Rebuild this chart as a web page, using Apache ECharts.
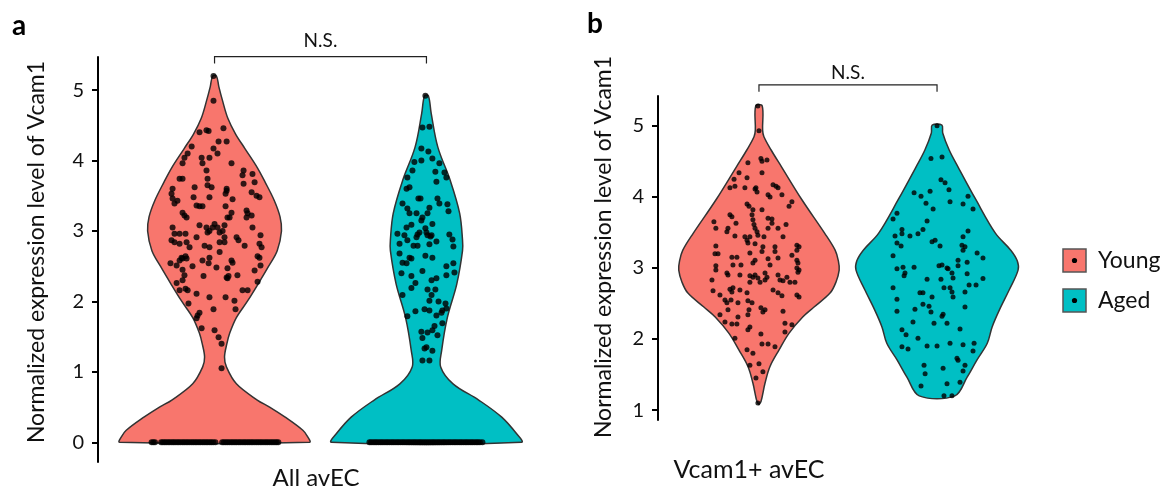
<!DOCTYPE html>
<html><head><meta charset="utf-8">
<script src="https://cdn.jsdelivr.net/npm/echarts@6/dist/echarts.min.js"></script>
<style>html,body{margin:0;padding:0;background:#fff}#c{width:1167px;height:495px}</style>
</head><body><div id="c"></div><script>
const groups = ['Young', 'Aged'];
const groupColors = ['#F8766D', '#00BFC4'];
const panelLetters = ['a', 'b'];
const panelXLabels = ['All avEC', 'Vcam1+ avEC'];
const yAxisTitle = 'Normalized expression level of Vcam1';
const sigLabel = 'N.S.';
const yTicksA = [0, 1, 2, 3, 4, 5];
const yTicksB = [1, 2, 3, 4, 5];

// violin outlines: [value, relative half-width]
const violinYoungA = [[0,1.0],[0.08,0.98],[0.17,0.93],[0.36,0.74],[0.5,0.58],[0.6,0.45],[0.83,0.23],[1.07,0.125],[1.21,0.105],[1.4,0.13],[1.55,0.16],[1.77,0.23],[2.01,0.35],[2.25,0.46],[2.5,0.57],[2.72,0.66],[3.0,0.705],[3.2,0.69],[3.43,0.63],[3.7,0.53],[3.9,0.45],[4.17,0.32],[4.38,0.22],[4.6,0.14],[4.85,0.084],[5.05,0.045],[5.2,0.02]];
const violinAgedA = [[0,1.0],[0.12,0.95],[0.36,0.79],[0.6,0.55],[0.83,0.28],[1.07,0.15],[1.3,0.16],[1.77,0.22],[2.25,0.32],[2.72,0.38],[2.87,0.38],[3.25,0.35],[3.72,0.25],[4.19,0.12],[4.67,0.05],[4.92,0.02]];
const violinYoungB = [[1.08,0.0],[1.12,0.025],[1.38,0.075],[1.61,0.135],[1.85,0.25],[2.08,0.37],[2.31,0.54],[2.45,0.68],[2.65,0.88],[2.8,0.95],[2.97,0.99],[3.1,0.98],[3.25,0.94],[3.49,0.81],[3.96,0.53],[4.42,0.28],[4.66,0.15],[4.85,0.06],[4.94,0.045],[5.28,0.04]];
const violinAgedB = [[1.2,0.22],[1.46,0.37],[1.7,0.49],[1.94,0.62],[2.17,0.68],[2.41,0.77],[2.69,0.89],[2.97,1.0],[3.1,0.99],[3.25,0.91],[3.49,0.72],[3.96,0.48],[4.42,0.26],[4.66,0.15],[4.9,0.07],[5.01,0.06]];

// jittered cells: [jitter, value]
const cellsYoungA = [[-0.005,5.2],[-0.005,4.85],[-0.071,4.4],[-0.038,4.43],[-0.028,4.42],[0.042,4.46],[0.019,4.27],[0.057,4.27],[-0.108,4.2],[-0.005,4.17],[-0.127,4.1],[-0.142,4.04],[-0.151,3.96],[-0.061,4.04],[-0.024,4.04],[0.014,4.1],[0.08,3.96],[-0.038,3.86],[-0.057,3.96],[0.137,3.86],[0.179,3.81],[0.132,3.79],[-0.165,3.74],[-0.151,3.74],[-0.033,3.74],[0.137,3.67],[0.189,3.69],[-0.033,3.65],[-0.024,3.48],[-0.014,3.62],[-0.094,3.62],[-0.099,3.48],[-0.198,3.6],[-0.203,3.53],[-0.198,3.46],[-0.189,3.39],[-0.175,3.43],[0.057,3.57],[0.052,3.53],[0.057,3.6],[0.085,3.45],[0.175,3.55],[0.198,3.5],[0.212,3.48],[-0.085,3.36],[-0.071,3.35],[-0.057,3.35],[0.052,3.35],[-0.151,3.26],[-0.142,3.22],[-0.132,3.19],[0.151,3.29],[0.156,3.25],[0.151,3.19],[0.175,3.22],[0.08,3.26],[0.071,3.19],[0.061,3.19],[-0.071,3.08],[-0.038,3.05],[-0.024,3.0],[-0.033,2.98],[-0.009,3.05],[0,3.1],[0.014,3.05],[0.038,3.0],[0.047,3.08],[-0.198,3.05],[-0.189,2.96],[-0.165,2.96],[-0.137,2.96],[-0.203,2.87],[-0.189,2.84],[-0.165,2.82],[-0.132,2.84],[-0.118,2.77],[-0.085,2.91],[0.024,2.98],[0.047,2.91],[0.024,2.84],[0.047,2.84],[0.104,2.91],[0.113,2.87],[0.179,3.05],[0.217,2.94],[0.212,2.82],[0.222,2.77],[0.142,2.79],[-0.047,2.79],[-0.024,2.77],[-0.208,2.54],[-0.179,2.51],[-0.165,2.58],[-0.156,2.62],[-0.151,2.61],[-0.137,2.64],[-0.132,2.61],[-0.104,2.5],[-0.151,2.45],[-0.142,2.37],[-0.151,2.3],[-0.179,2.26],[-0.165,2.16],[-0.137,2.18],[-0.127,2.16],[-0.085,2.11],[-0.123,1.97],[-0.071,1.84],[-0.08,1.8],[-0.085,1.76],[-0.061,1.62],[-0.057,2.58],[-0.024,2.62],[-0.028,2.54],[0.009,2.48],[-0.052,2.36],[-0.024,2.06],[-0.005,1.89],[0,1.59],[0.019,1.49],[0.033,1.4],[0.033,1.05],[0.052,2.06],[0.057,2.34],[0.061,2.33],[0.066,2.36],[0.061,2.47],[0.08,2.58],[0.085,2.55],[0.024,2.7],[0.094,2.01],[0.099,1.89],[0.108,2.37],[0.132,2.16],[0.156,2.16],[0.189,2.44],[0.203,2.28],[0.217,2.51],[0.203,2.64],[0.212,2.62]];
const zerosYoungA = [-0.297,-0.289,-0.281,-0.252,-0.244,-0.236,-0.228,-0.219,-0.211,-0.202,-0.194,-0.186,-0.177,-0.169,-0.16,-0.151,-0.143,-0.134,-0.126,-0.117,-0.108,-0.1,-0.091,-0.083,-0.074,-0.066,-0.057,-0.049,-0.04,-0.032,-0.023,-0.015,-0.006,0.004,0.036,0.044,0.053,0.061,0.07,0.079,0.087,0.096,0.104,0.113,0.121,0.13,0.139,0.147,0.156,0.164,0.173,0.181,0.19,0.199,0.207,0.216,0.224,0.233,0.242,0.25,0.259,0.268,0.276,0.285,0.293,0.301];
const cellsAgedA = [[-0.005,4.92],[-0.019,4.47],[0.014,4.48],[-0.024,4.17],[0.009,4.13],[-0.057,3.98],[-0.024,4.0],[0.028,4.03],[0.061,3.96],[-0.066,3.86],[0.042,3.84],[0.085,3.83],[0.094,3.76],[-0.09,3.76],[0.047,3.7],[-0.094,3.6],[-0.08,3.62],[-0.038,3.46],[-0.028,3.46],[-0.113,3.39],[0.052,3.46],[0.061,3.39],[0.099,3.38],[-0.09,3.32],[-0.08,3.25],[-0.047,3.25],[0.014,3.33],[0.005,3.25],[0.104,3.28],[-0.019,3.19],[-0.024,3.15],[0.028,3.1],[-0.094,3.05],[-0.071,3.09],[-0.005,3.04],[0,2.98],[0.005,2.94],[-0.033,2.98],[-0.137,2.96],[-0.104,2.94],[-0.09,2.87],[-0.042,2.95],[-0.047,2.91],[0.019,2.92],[0.024,2.94],[0.108,2.95],[0.123,2.88],[0.127,2.78],[-0.127,2.82],[-0.061,2.79],[-0.042,2.79],[0.014,2.81],[0.047,2.85],[-0.127,2.68],[-0.113,2.55],[-0.094,2.54],[-0.08,2.62],[-0.071,2.61],[-0.005,2.65],[0.028,2.62],[0.094,2.5],[0.127,2.54],[0.094,2.37],[0.132,2.41],[-0.118,2.4],[-0.071,2.36],[-0.052,2.26],[-0.071,2.19],[-0.019,2.43],[0.024,2.3],[0.047,2.33],[0.005,2.17],[0.042,2.17],[-0.113,2.09],[0.014,2.01],[0.024,2.09],[0.057,2.0],[0.09,1.97],[0.075,1.87],[0.094,1.9],[0.071,1.84],[-0.052,1.86],[-0.009,1.89],[0.014,1.87],[-0.09,1.79],[0.047,1.8],[0.075,1.69],[-0.024,1.57],[0.005,1.56],[0.028,1.59],[0.038,1.65],[0.052,1.52],[-0.019,1.48],[0,1.35],[-0.009,1.33],[0.028,1.3],[-0.019,1.16],[0.014,1.16]];
const zerosAgedA = [-0.269,-0.261,-0.252,-0.243,-0.235,-0.226,-0.217,-0.209,-0.2,-0.191,-0.183,-0.174,-0.165,-0.157,-0.148,-0.139,-0.131,-0.122,-0.113,-0.105,-0.096,-0.087,-0.079,-0.07,-0.061,-0.053,-0.044,-0.035,-0.027,-0.018,-0.009,0,0.009,0.018,0.027,0.035,0.044,0.053,0.061,0.07,0.079,0.087,0.096,0.105,0.113,0.122,0.131,0.139,0.148,0.157,0.165,0.174,0.183,0.191,0.2,0.209,0.217,0.226,0.235,0.243,0.252,0.264];
const cellsYoungB = [[-0.006,5.28],[0,4.93],[-0.062,4.48],[0.011,4.54],[0.017,4.5],[0.045,4.52],[-0.112,4.34],[0.017,4.34],[-0.14,4.25],[-0.135,4.15],[-0.163,4.13],[-0.067,4.27],[-0.079,4.13],[-0.022,4.11],[-0.011,4.07],[-0.017,4.13],[0.079,4.17],[0.096,4.15],[0.107,4.13],[0.051,4.03],[0.062,4.0],[0.129,4.03],[0.185,3.93],[0.169,3.87],[-0.067,3.9],[-0.056,3.87],[-0.034,3.82],[0.017,3.82],[-0.163,3.75],[-0.152,3.72],[-0.039,3.75],[-0.034,3.68],[-0.028,3.61],[-0.022,3.56],[0.051,3.7],[0.073,3.69],[-0.253,3.65],[-0.242,3.56],[-0.129,3.63],[0.073,3.63],[0.107,3.56],[0.051,3.56],[0.152,3.61],[-0.18,3.51],[-0.174,3.56],[-0.079,3.44],[-0.067,3.39],[-0.051,3.44],[-0.062,3.35],[-0.011,3.51],[-0.006,3.46],[-0.135,3.45],[0.028,3.44],[0.135,3.44],[-0.242,3.31],[-0.022,3.34],[0.022,3.3],[0.09,3.3],[0.213,3.32],[0.225,3.3],[-0.247,3.2],[-0.23,3.2],[-0.152,3.15],[-0.124,3.15],[-0.051,3.21],[-0.034,3.07],[-0.022,3.11],[0.017,3.23],[0.051,3.13],[0.062,3.04],[0.09,3.23],[0.107,3.14],[0.185,3.18],[0.213,3.25],[0.213,3.11],[0.219,3.07],[0.213,3.0],[0.225,2.97],[0.219,2.94],[-0.242,3.03],[-0.242,2.97],[-0.146,3.04],[-0.101,3.04],[-0.18,2.93],[-0.174,2.9],[-0.107,2.9],[-0.051,2.89],[-0.034,2.87],[-0.022,2.9],[-0.006,2.86],[0.006,2.8],[0.034,2.93],[0.045,2.87],[0.034,2.83],[-0.051,2.8],[0.107,2.9],[0.118,2.83],[0.135,2.82],[0.174,2.8],[0.202,2.8],[0.157,2.87],[-0.264,2.83],[-0.258,2.68],[-0.163,2.7],[-0.146,2.72],[-0.152,2.66],[-0.107,2.69],[-0.067,2.65],[-0.219,2.62],[-0.191,2.55],[-0.18,2.51],[-0.157,2.55],[-0.118,2.51],[-0.062,2.54],[-0.039,2.51],[0.079,2.69],[0.107,2.65],[0.129,2.61],[0.213,2.62],[0.225,2.59],[0.011,2.44],[0.022,2.38],[0.034,2.41],[-0.056,2.41],[-0.062,2.34],[-0.174,2.41],[-0.219,2.34],[-0.191,2.24],[-0.152,2.21],[-0.124,2.21],[-0.118,2.31],[0.135,2.39],[0.146,2.22],[0.185,2.2],[0.146,2.1],[-0.051,2.17],[-0.062,2.13],[0.011,2.07],[-0.135,2.01],[0.017,1.93],[0.051,1.93],[0.09,1.89],[-0.067,1.85],[-0.034,1.8],[-0.051,1.63],[0,1.65],[0.022,1.54],[-0.017,1.45],[-0.006,1.1]];
const cellsAgedB = [[0,5.0],[-0.034,4.54],[0.028,4.56],[0.022,4.24],[0.045,4.2],[0.067,4.1],[-0.039,4.08],[-0.129,4.06],[-0.09,4.01],[-0.062,3.91],[0.073,3.93],[0.174,4.01],[0.146,3.9],[0.202,3.83],[-0.022,3.83],[-0.225,3.77],[-0.247,3.69],[-0.056,3.66],[-0.079,3.54],[-0.107,3.48],[-0.152,3.45],[-0.197,3.54],[-0.197,3.48],[-0.236,3.45],[-0.225,3.35],[-0.202,3.31],[-0.028,3.37],[-0.011,3.39],[0.017,3.31],[0.174,3.52],[0.146,3.44],[0.14,3.32],[0.157,3.3],[-0.247,3.17],[-0.225,2.99],[-0.191,3.01],[-0.18,2.93],[-0.185,2.89],[-0.129,3.01],[-0.056,2.84],[-0.247,2.72],[-0.225,2.56],[-0.225,2.39],[-0.096,2.65],[-0.079,2.65],[-0.028,2.59],[-0.079,2.49],[-0.045,2.46],[-0.124,2.42],[-0.034,2.38],[0.011,3.03],[0.028,3.04],[0.056,3.0],[0.062,2.99],[0.084,2.93],[0.09,2.86],[0.022,2.84],[0.039,2.72],[0.073,2.72],[0.084,2.66],[0.09,2.59],[0.118,3.11],[0.118,3.03],[0.169,3.08],[0.146,3.25],[0.225,3.21],[0.258,3.14],[0.169,2.92],[0.258,2.85],[0.219,2.76],[0.18,2.76],[0.157,2.66],[0.157,2.45],[-0.135,2.24],[-0.017,2.22],[0.028,2.32],[0.034,2.35],[0.056,2.22],[0.129,2.14],[-0.197,2.13],[-0.174,2.06],[-0.107,2.01],[-0.197,1.89],[-0.163,1.86],[-0.056,1.9],[0,1.9],[0.073,1.94],[0.146,1.92],[0.208,1.94],[0.202,1.83],[0.112,1.73],[0.118,1.7],[0.157,1.63],[0.146,1.55],[0.034,1.59],[-0.073,1.63],[-0.067,1.51],[-0.09,1.34],[0.056,1.37],[0.129,1.39],[0.039,1.2],[0.084,1.2]];

const FONT = 'Lato, "Open Sans", sans-serif';
const MAXHALF_A = 0.448, MAXHALF_B = 0.455;

function violinSeries(idx, profiles, maxHalf) {
  return {
    type: 'custom', xAxisIndex: idx, yAxisIndex: idx, z: 1, silent: true,
    data: profiles.map((p, i) => [i + 1, p[p.length - 1][0]]),
    renderItem: function (params, api) {
      const i = params.dataIndex, prof = profiles[i], cx = i + 1;
      const right = prof.map(function (d) { return api.coord([cx + d[1] * maxHalf, d[0]]); });
      const left = prof.slice().reverse().map(function (d) { return api.coord([cx - d[1] * maxHalf, d[0]]); });
      return { type: 'polygon', shape: { points: right.concat(left), smooth: 0.35 },
        style: { fill: groupColors[i], stroke: '#333', lineWidth: 1.5 } };
    }
  };
}
function cellSeries(idx, gi, cells, size) {
  return { type: 'scatter', xAxisIndex: idx, yAxisIndex: idx, z: 3, silent: true,
    symbolSize: size, itemStyle: { color: '#000' },
    data: cells.map(function (c) { return [gi + 1 + c[0], c[1]]; }) };
}
function zeroSeries(idx, gi, zs, size) {
  return cellSeries(idx, gi, zs.map(function (j) { return [j, 0]; }), size);
}
function bracketSeries(idx, yTop, yTick, yText) {
  return { type: 'custom', xAxisIndex: idx, yAxisIndex: idx, z: 4, silent: true, clip: false,
    data: [[1, yTop]],
    renderItem: function (params, api) {
      const p1 = api.coord([1, yTick]), p2 = api.coord([1, yTop]), p3 = api.coord([2, yTop]), p4 = api.coord([2, yTick]);
      const t = api.coord([1.5, yText]);
      return { type: 'group', children: [
        { type: 'polyline', shape: { points: [p1, p2, p3, p4] }, style: { stroke: '#222', lineWidth: 1.2, fill: null } },
        { type: 'text', x: t[0], y: t[1], style: { text: sigLabel, align: 'center', verticalAlign: 'middle', font: '19px ' + FONT, fill: '#111' } }
      ] };
    } };
}
function yAxisCfg(idx, min, max, ticks) {
  return { gridIndex: idx, type: 'value', min: min, max: max,
    axisLine: { show: true, lineStyle: { color: '#000', width: 2 } },
    axisTick: { show: true, length: 6, customValues: ticks, lineStyle: { color: '#000', width: 2 } },
    axisLabel: { customValues: ticks, fontSize: 20, color: '#111', margin: 14, fontFamily: FONT },
    splitLine: { show: false } };
}

const chart = echarts.init(document.getElementById('c'), null, { renderer: 'canvas' });
const legendGraphics = [];
groups.forEach(function (g, i) {
  const y = 249 + i * 40;
  legendGraphics.push({ type: 'rect', shape: { x: 1063, y: y, width: 23, height: 23 }, style: { fill: groupColors[i], stroke: '#555', lineWidth: 1.5 } });
  legendGraphics.push({ type: 'circle', shape: { cx: 1074.5, cy: y + 11.5, r: 2.6 }, style: { fill: '#000' } });
  legendGraphics.push({ type: 'text', x: 1098, y: y + 11.5, style: { text: g, font: '23px ' + FONT, fill: '#111', verticalAlign: 'middle' } });
});

chart.setOption({
  animation: false,
  grid: [
    { left: 98, top: 57, width: 445, height: 405 },
    { left: 658, top: 96, width: 380, height: 324 }
  ],
  xAxis: [
    { gridIndex: 0, type: 'value', min: 0.45, max: 2.55, show: false },
    { gridIndex: 1, type: 'value', min: 0.433, max: 2.567, show: false }
  ],
  yAxis: [ yAxisCfg(0, -0.28, 5.47, yTicksA), yAxisCfg(1, 0.86, 5.42, yTicksB) ],
  series: [
    violinSeries(0, [violinYoungA, violinAgedA], MAXHALF_A),
    violinSeries(1, [violinYoungB, violinAgedB], MAXHALF_B),
    cellSeries(0, 0, cellsYoungA, 6), zeroSeries(0, 0, zerosYoungA, 6),
    cellSeries(0, 1, cellsAgedA, 6), zeroSeries(0, 1, zerosAgedA, 6),
    cellSeries(1, 0, cellsYoungB, 5), cellSeries(1, 1, cellsAgedB, 5),
    bracketSeries(0, 5.475, 5.376, 5.7),
    bracketSeries(1, 5.577, 5.479, 5.746)
  ],
  graphic: [
    { type: 'text', x: 12, y: 26, style: { text: panelLetters[0], font: 'bold 28px ' + FONT, fill: '#000', verticalAlign: 'middle' } },
    { type: 'text', x: 587, y: 24, style: { text: panelLetters[1], font: 'bold 28px ' + FONT, fill: '#000', verticalAlign: 'middle' } },
    { type: 'text', x: 37, y: 252, rotation: Math.PI / 2, style: { text: yAxisTitle, font: '23px ' + FONT, fill: '#111', align: 'center', verticalAlign: 'middle' } },
    { type: 'text', x: 604, y: 247, rotation: Math.PI / 2, style: { text: yAxisTitle, font: '23px ' + FONT, fill: '#111', align: 'center', verticalAlign: 'middle' } },
    { type: 'text', x: 316, y: 478, style: { text: panelXLabels[0], font: '24px ' + FONT, fill: '#111', align: 'center', verticalAlign: 'middle' } },
    { type: 'text', x: 749, y: 470, style: { text: panelXLabels[1], font: '25px ' + FONT, fill: '#111', align: 'center', verticalAlign: 'middle' } }
  ].concat(legendGraphics)
});
</script></body></html>
